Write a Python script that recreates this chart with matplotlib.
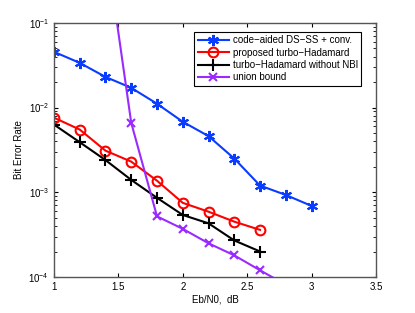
import matplotlib
matplotlib.use("Agg")
import matplotlib.pyplot as plt
import numpy as np

# Eb/N0 in dB
snr_blue = [1.0, 1.2, 1.4, 1.6, 1.8, 2.0, 2.2, 2.4, 2.6, 2.8, 3.0]
ber_blue = [0.0455, 0.0337, 0.023, 0.0171, 0.0111, 0.0068, 0.0046, 0.0025, 0.0012, 0.00093, 0.00069]

snr_red = [1.0, 1.2, 1.4, 1.6, 1.8, 2.0, 2.2, 2.4, 2.6]
ber_red = [0.0076, 0.0055, 0.0031, 0.0023, 0.00137, 0.00075, 0.00059, 0.00045, 0.00036]

snr_black = [1.0, 1.2, 1.4, 1.6, 1.8, 2.0, 2.2, 2.4, 2.6]
ber_black = [0.0063, 0.0039, 0.0024, 0.0014, 0.00086, 0.00054, 0.00043, 0.00027, 0.0002]

snr_union = [1.4, 1.6, 1.8, 2.0, 2.2, 2.4, 2.6, 2.8]
ber_union = [0.9, 0.0066, 0.00052, 0.00037, 0.00025, 0.00018, 0.00012, 0.000081]

labels = ['code\u2212aided DS\u2212SS + conv.', 'proposed turbo\u2212Hadamard',
          'turbo\u2212Hadamard without NBI', 'union bound']

plt.rcParams['font.family'] = ['Liberation Sans', 'DejaVu Sans']

fig = plt.figure(figsize=(4.15, 3.13), dpi=100)
ax = fig.add_axes([0.130, 0.115, 0.776, 0.812])

ax.semilogy(snr_blue, ber_blue, '-', color='#0a3cff', lw=1.5, marker=(6, 2, 0), ms=8, mew=1.5, label=labels[0])
ax.semilogy(snr_red, ber_red, '-', color='red', lw=1.5, marker='o', ms=7, mfc='none', mew=1.5, label=labels[1])
ax.semilogy(snr_black, ber_black, '-', color='black', lw=1.5, marker='+', ms=8, mew=1.5, label=labels[2])
ax.semilogy(snr_union, ber_union, '-', color='#9a2bff', lw=1.5, marker='x', ms=6, mew=1.5, label=labels[3])

ax.set_xlim(1, 3.5)
ax.set_ylim(1e-4, 1e-1)
ax.set_xticks([1, 1.5, 2, 2.5, 3, 3.5])
ax.set_xticklabels(['1', '1.5', '2', '2.5', '3', '3.5'])
ax.tick_params(which='both', direction='in', top=True, right=True, labelsize=7, length=3)
ax.tick_params(which='minor', length=2)
for s in ax.spines.values():
    s.set_color('#555555')
    s.set_linewidth(1.0)

ax.set_xlabel('Eb/N0,  dB', fontsize=7, labelpad=2)
ax.set_ylabel('Bit Error Rate', fontsize=7, labelpad=3)

leg = ax.legend(loc='upper right', fontsize=7, fancybox=False, framealpha=1,
                edgecolor='black', borderpad=0.35, labelspacing=0.25, handlelength=3.2,
                handletextpad=0.4, borderaxespad=0, bbox_to_anchor=(0.955, 0.965))
leg.get_frame().set_linewidth(0.8)

fig.savefig('out.png', dpi=100)
